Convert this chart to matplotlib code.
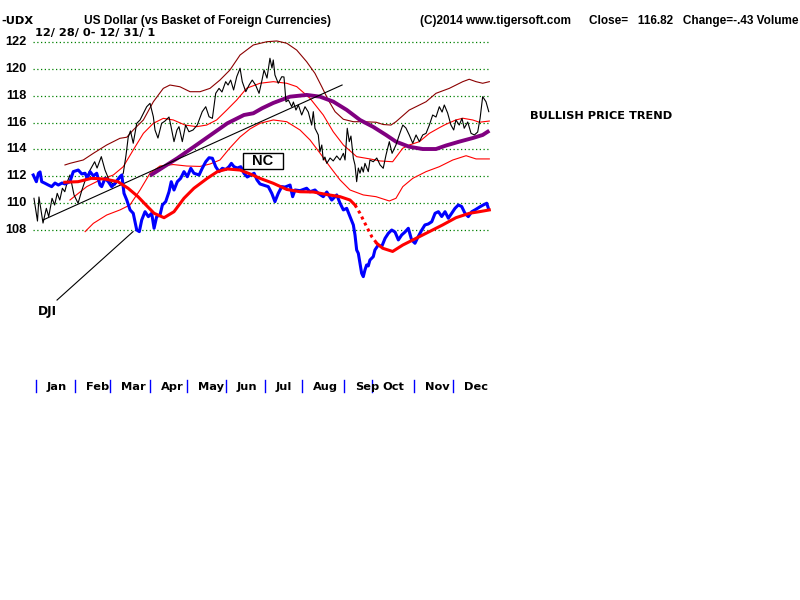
import matplotlib
matplotlib.use("Agg")
import matplotlib.pyplot as plt
import matplotlib.transforms as mtransforms
from matplotlib.patches import Rectangle

# ---------------- data (x = trading-day index of 2001, y = chart price scale) -------------
udx_days = [-1.1, 0.8, 1.6, 3.8, 5.6, 6.9, 8.7, 10.1, 11.5, 12.9, 14.3, 15.6, 17.0, 18.4, 20.6, 22.8,
            24.9, 27.1, 29.3, 31.8, 33.1, 35.4, 37.4, 40.0, 42.8, 45.5, 47.3, 48.8, 50.0, 51.2, 52.7,
            54.6, 56.4, 58.2, 60.0, 61.8, 63.6, 64.5, 66.1, 68.1, 69.9, 72.1, 73.2, 74.8, 76.4, 77.5,
            79.3, 81.1, 82.9, 85.1, 87.4, 90.1, 92.0, 93.8, 95.6, 97.4, 99.2, 100.8, 102.8, 104.1,
            105.5, 107.1, 108.8, 110.6, 111.8, 113.7, 115.5, 117.2, 119.0, 120.9, 122.5, 123.6, 125.2,
            126.8, 127.9, 128.6, 129.5, 131.3, 133.2, 134.4, 135.5, 136.8, 138.6, 139.5, 140.9, 142.2,
            144.0, 145.8, 147.6, 149.4, 150.3, 151.2, 153.0, 153.9, 154.9, 155.7, 156.6, 157.6, 159.4,
            161.1, 163.0, 164.8, 166.6, 167.5, 168.7, 169.8, 170.7, 172.0, 172.9, 173.8, 174.7, 175.6,
            176.5, 177.4, 178.3, 180.1, 181.0, 182.8, 184.7, 186.5, 188.2, 189.7, 191.5, 193.0, 195.1,
            196.9, 198.8, 200.5, 202.3, 204.2, 206.0, 207.8, 209.6, 211.4, 213.2, 215.0, 216.8, 218.6,
            220.1, 221.3, 223.1, 224.9, 226.4, 227.6, 229.4, 230.9, 232.1, 234.0, 235.8, 237.6, 239.4,
            240.7, 242.1, 243.9, 245.4]
udx_close = [110.35, 108.65, 110.45, 108.50, 109.60, 108.98, 110.35, 109.85, 110.72, 110.22, 111.10,
             110.84, 111.59, 112.09, 110.60, 109.98, 110.97, 111.87, 112.46, 113.08, 112.61, 113.46,
             112.46, 111.59, 111.34, 111.87, 112.22, 113.58, 114.93, 115.38, 114.46, 115.95, 116.20,
             116.70, 117.19, 117.44, 116.44, 115.45, 114.85, 115.95, 116.12, 116.42, 115.70, 114.58,
             115.45, 115.70, 114.58, 115.82, 115.32, 115.45, 115.82, 116.82, 117.19, 116.44, 116.32,
             118.19, 118.56, 118.29, 119.06, 118.81, 119.18, 118.44, 119.43, 120.06, 119.06, 118.31,
             118.81, 119.18, 118.81, 118.19, 119.18, 119.93, 119.33, 120.81, 120.08, 120.68, 119.56,
             118.94, 119.43, 119.41, 117.56, 117.69, 117.19, 117.54, 116.94, 117.32, 116.57, 117.19,
             116.79, 115.82, 116.82, 115.58, 115.08, 113.83, 114.33, 113.21, 113.43, 112.96, 113.36,
             113.14, 113.51, 113.21, 113.71, 113.21, 115.58, 114.58, 115.00, 113.34, 112.84, 111.59,
             112.61, 112.22, 112.69, 112.31, 112.96, 112.34, 113.21, 113.08, 113.36, 112.84, 112.59,
             113.58, 114.58, 113.71, 114.33, 115.08, 115.82, 115.60, 115.08, 114.46, 115.08, 114.58,
             115.08, 115.20, 115.82, 116.57, 116.42, 117.19, 116.79, 117.32, 116.72, 115.82, 115.45,
             116.20, 115.82, 116.32, 115.58, 116.05, 115.20, 115.08, 115.30, 116.32, 117.94, 117.56,
             116.82]

outer_days = [15.7, 18.4, 25.6, 31.1, 38.3, 45.5, 49.2, 52.7, 58.2, 63.6, 69.0, 72.6, 78.0, 83.5,
              88.9, 94.3, 99.7, 105.1, 110.6, 117.8, 125.0, 130.5, 135.9, 141.3, 146.7, 151.2, 154.9,
              158.4, 162.1, 166.6, 172.0, 177.4, 184.3, 188.2, 192.4, 195.1, 202.3, 211.4, 216.8,
              224.0, 231.3, 234.8, 238.5, 242.1, 245.7]
outer_upper = [112.84, 112.96, 113.21, 113.71, 114.33, 114.83, 114.91, 115.45, 116.20, 117.56,
               118.56, 118.81, 118.68, 118.31, 118.31, 118.56, 119.18, 119.93, 121.05, 121.80,
               122.04, 122.10, 121.93, 121.42, 120.55, 119.68, 118.68, 117.69, 116.82, 116.25,
               116.07, 116.07, 116.03, 115.86, 115.82, 116.07, 116.94, 117.56, 118.19, 118.56,
               119.06, 119.24, 119.06, 118.94, 119.06]

upper_days = [18.4, 27.5, 34.7, 41.9, 47.3, 52.7, 58.2, 63.6, 69.0, 74.4, 80.8, 87.1, 92.5, 97.9,
              103.4, 108.8, 114.2, 121.4, 128.6, 135.9, 141.3, 148.5, 155.7, 161.1, 166.6, 173.8,
              181.0, 186.4, 193.3, 198.8, 202.3, 207.8, 213.2, 218.6, 222.2, 227.6, 231.3, 236.7,
              240.3, 245.7]
upper_band = [110.22, 111.22, 111.72, 112.09, 112.71, 113.96, 115.20, 115.95, 116.32, 116.20,
              115.82, 115.70, 115.82, 116.20, 116.94, 117.69, 118.57, 118.94, 119.06, 118.94,
              118.69, 117.82, 116.57, 115.32, 114.33, 113.46, 113.29, 113.14, 113.08, 114.09,
              114.33, 114.58, 115.20, 115.62, 115.88, 116.20, 116.33, 116.20, 116.03, 116.12]

lower_days = [26.6, 31.1, 38.3, 45.5, 50.9, 56.4, 61.8, 67.2, 74.4, 81.7, 88.9, 94.3, 99.7, 105.1,
              110.6, 116.0, 121.4, 128.6, 135.9, 143.1, 148.5, 154.0, 159.3, 164.8, 170.2, 177.4,
              184.3, 191.5, 195.1, 198.8, 204.2, 211.4, 218.6, 225.9, 233.1, 238.5, 245.7]
lower_band = [107.86, 108.48, 109.10, 109.48, 109.85, 110.97, 112.22, 112.76, 112.87, 112.76,
              112.73, 112.91, 113.21, 114.11, 114.93, 115.53, 115.95, 116.20, 116.07, 115.45,
              114.71, 113.71, 112.71, 111.72, 110.97, 110.60, 110.47, 110.15, 110.35, 111.22,
              111.84, 112.34, 112.71, 113.21, 113.53, 113.29, 113.29]

ma50_days = [61.8, 69.4, 76.6, 85.6, 94.7, 103.7, 112.7, 117.8, 122.5, 128.6, 137.7, 146.7, 153.9,
             161.1, 168.4, 175.6, 182.8, 189.7, 195.1, 202.3, 209.6, 216.8, 222.2, 229.4, 236.7,
             242.1, 245.7]
ma50 = [112.04, 112.71, 113.34, 114.20, 115.08, 115.95, 116.57, 116.70, 117.07, 117.47, 117.94,
        118.07, 117.94, 117.57, 116.95, 116.20, 115.68, 115.08, 114.58, 114.20, 114.03, 114.03,
        114.29, 114.58, 114.85, 115.08, 115.40]

dji_days = [-1.5, 0.2, 1.3, 2.2, 3.1, 4.9, 6.7, 8.5, 10.3, 12.1, 14.1, 15.7, 18.4, 20.2, 22.9, 24.8,
            26.6, 27.8, 29.3, 31.1, 32.9, 34.7, 35.6, 37.4, 39.2, 41.0, 42.8, 45.5, 46.5, 47.7, 49.2,
            51.0, 52.7, 54.6, 56.0, 57.3, 59.1, 60.9, 62.7, 64.0, 65.4, 67.2, 68.5, 70.3, 72.1, 73.3,
            74.8, 76.6, 78.4, 80.2, 82.0, 83.9, 85.6, 88.4, 90.1, 92.0, 93.8, 95.6, 97.4, 99.2, 101.0,
            102.8, 104.6, 105.9, 107.3, 109.1, 111.0, 112.7, 114.5, 116.4, 118.2, 119.8, 121.4, 123.2,
            125.9, 127.8, 129.5, 131.3, 133.2, 135.0, 137.7, 139.1, 140.4, 143.1, 146.7, 148.5, 151.2,
            153.0, 155.7, 157.6, 160.3, 163.0, 164.8, 166.6, 168.4, 170.2, 172.0, 172.9, 173.8, 174.7,
            175.6, 176.5, 177.4, 178.3, 179.2, 180.1, 181.0, 182.8, 183.7, 185.5, 187.4, 189.2, 191.0,
            192.8, 194.6, 196.4, 198.2, 200.0, 201.8, 203.6, 205.4, 207.2, 209.1, 210.8, 212.6, 214.5,
            216.3, 218.1, 219.9, 221.7, 223.5, 225.3, 227.1, 228.9, 230.7, 232.5, 234.3, 236.2, 237.9,
            240.7, 242.4, 244.3, 245.2]
dji_scaled = [112.09, 111.59, 112.22, 112.32, 111.59, 111.47, 111.34, 111.22, 111.49, 111.34, 111.49,
              111.42, 111.59, 112.34, 112.46, 112.17, 112.22, 111.84, 112.34, 112.02, 112.22, 111.34,
              111.22, 111.84, 111.59, 111.22, 111.47, 111.96, 112.09, 110.72, 110.22, 109.48, 109.23,
              107.98, 107.86, 108.73, 109.35, 108.98, 109.23, 108.11, 108.98, 109.10, 109.85, 110.10,
              110.84, 111.59, 110.97, 111.59, 111.84, 112.34, 111.96, 112.59, 112.22, 112.09, 112.59,
              113.08, 113.38, 113.34, 112.71, 112.34, 112.59, 112.50, 112.71, 112.96, 112.71, 112.61,
              112.71, 112.22, 111.94, 112.09, 112.22, 111.72, 111.42, 111.34, 111.22, 110.72, 110.10,
              110.72, 111.22, 111.19, 111.34, 110.47, 110.97, 110.92, 111.10, 110.84, 110.97, 110.72,
              110.47, 110.82, 110.22, 110.60, 109.98, 109.48, 109.60, 108.98, 108.36, 107.61, 106.49,
              106.24, 105.50, 104.75, 104.50, 105.00, 105.37, 105.30, 105.74, 105.99, 106.49, 106.86,
              106.75, 107.36, 107.74, 107.98, 107.83, 107.24, 107.61, 107.83, 108.11, 107.24, 106.99,
              107.50, 107.98, 108.36, 108.43, 108.60, 109.23, 109.35, 108.99, 109.35, 108.86, 109.23,
              109.60, 109.85, 109.74, 109.23, 108.98, 109.35, 109.48, 109.72, 109.85, 109.98, 109.60]

dji_ma_days = [15.6, 22.8, 30.0, 37.2, 44.4, 49.9, 55.3, 59.6, 64.0, 69.4, 74.8, 80.2, 85.6, 92.8,
               98.3, 103.7, 110.6, 116.0, 121.4, 128.6, 135.9, 143.1, 150.3, 157.6, 164.8, 170.2,
               172.9, 175.6, 179.2, 182.1, 184.7, 187.9, 193.3, 198.8, 206.0, 213.2, 220.4, 227.6,
               234.9, 240.3, 245.7]
dji_ma = [111.55, 111.59, 111.84, 111.79, 111.59, 111.10, 110.47, 109.85, 109.23, 108.90, 109.35,
          110.35, 111.10, 111.84, 112.34, 112.54, 112.46, 112.17, 111.84, 111.47, 111.01, 110.84,
          110.82, 110.63, 110.47, 110.22, 109.85, 109.23, 108.23, 107.46, 106.99, 106.62, 106.38,
          106.86, 107.36, 107.86, 108.36, 108.90, 109.23, 109.35, 109.48]
dji_ma_dotted_from = 172.9
dji_ma_dotted_to = 184.7

trend_days = [3.8, 165.9]
trend_vals = [108.73, 118.81]
pointer_days = [11.4, 52.6]
pointer_vals = [102.75, 107.86]

price_levels = [108, 110, 112, 114, 116, 118, 120, 122]
month_names = ["Jan", "Feb", "Mar", "Apr", "May", "Jun", "Jul", "Aug", "Sep", "Oct", "Nov", "Dec"]
month_start_day = [0, 21, 40, 62, 82, 103, 124, 144, 167, 182, 205, 226]

# ---------------- figure -------------
W, H = 800, 600
fig = plt.figure(figsize=(8, 6), dpi=100, facecolor="white")
ax = fig.add_axes([0, 0, 1, 1])
ax.set_axis_off()
px_per_day = 1.845
x0_px = 36.0
ax.set_xlim(-x0_px / px_per_day, (W - x0_px) / px_per_day)
ax.set_ylim(122 - (H - 42.3) / 13.39, 122 + 42.3 / 13.39)

FONT = "DejaVu Sans"
NARROW = "Liberation Sans"
fs = 8.2

# grid
ax.hlines(price_levels, -1.6, 246.0, colors="#008000", linestyles=(0, (1, 2)), lw=0.9, zorder=1)

trans_ylab = mtransforms.blended_transform_factory(fig.transFigure, ax.transData)
for p in price_levels:
    ax.text(27 / W, p, str(p), transform=trans_ylab, ha="right", va="center",
            fontsize=9.2, fontweight="bold", family=NARROW)

# bands and averages
ax.plot(outer_days, outer_upper, color="#8B0000", lw=0.8, zorder=2)
ax.plot(upper_days, upper_band, color="#FF0000", lw=0.8, zorder=2)
ax.plot(lower_days, lower_band, color="#FF0000", lw=0.8, zorder=2)
ax.plot(ma50_days, ma50, color="#800080", lw=2.8, zorder=3, solid_capstyle="butt")
ax.plot(trend_days, trend_vals, color="black", lw=0.8, zorder=3)
ax.plot(udx_days, udx_close, color="black", lw=0.8, zorder=4)

# DJI and its moving average
ax.plot(dji_days, dji_scaled, color="#0000FF", lw=2.2, zorder=5)
seg1 = [i for i, d in enumerate(dji_ma_days) if d <= dji_ma_dotted_from]
seg2 = [i for i, d in enumerate(dji_ma_days) if dji_ma_dotted_from <= d <= dji_ma_dotted_to]
seg3 = [i for i, d in enumerate(dji_ma_days) if d >= dji_ma_dotted_to]
for seg in (seg1, seg3):
    ax.plot([dji_ma_days[i] for i in seg], [dji_ma[i] for i in seg], color="#FF0000",
            lw=2.2, zorder=6)
ax.plot([dji_ma_days[i] for i in seg2], [dji_ma[i] for i in seg2], color="#FF0000",
        lw=2.2, ls=(0, (1, 1.2)), zorder=6)

ax.plot(pointer_days, pointer_vals, color="black", lw=0.8, zorder=3)
fig.text(38 / W, 1 - 311 / H, "DJI", ha="left", va="center", fontsize=fs + 0.5,
         fontweight="bold", family=FONT)

# NC box (pixel frame 243..283 x 152.7..169.3 converted to data)
nc_left, nc_right = (243 - x0_px) / px_per_day, (283 - x0_px) / px_per_day
nc_top, nc_bot = 122 - (152.7 - 42.3) / 13.39, 122 - (169.3 - 42.3) / 13.39
ax.add_patch(Rectangle((nc_left, nc_bot), nc_right - nc_left, nc_top - nc_bot,
                       facecolor="white", edgecolor="black", lw=1.0, zorder=7))
ax.text((nc_left + nc_right) / 2, (nc_top + nc_bot) / 2, "NC", ha="center", va="center",
        fontsize=10.5, fontweight="bold", family=NARROW, zorder=8)

# month axis
trans_month = mtransforms.blended_transform_factory(ax.transData, fig.transFigure)
for name, d in zip(month_names, month_start_day):
    ax.plot([d, d], [1 - 380 / H, 1 - 392 / H], transform=trans_month, color="#0000FF", lw=1.0)
    ax.text(d + 11 / px_per_day, 1 - 386.5 / H, name, transform=trans_month, ha="left",
            va="center", fontsize=fs, fontweight="bold", family=FONT)

# header texts
fig.text(1 / W, 1 - 21 / H, "-UDX", ha="left", va="center", fontsize=fs, fontweight="bold", family=FONT)
fig.text(84 / W, 1 - 21 / H, "US Dollar (vs Basket of Foreign Currencies)", ha="left", va="center",
         fontsize=8.55, fontweight="bold", family=NARROW)
fig.text(35 / W, 1 - 33 / H, "12/ 28/ 0- 12/ 31/ 1", ha="left", va="center", fontsize=fs,
         fontweight="bold", family=FONT)
fig.text(420 / W, 1 - 21 / H, "(C)2014 www.tigersoft.com", ha="left", va="center", fontsize=8.5,
         fontweight="bold", family=NARROW)
fig.text(589 / W, 1 - 21 / H, "Close=   116.82   Change=-.43 Volume", ha="left", va="center",
         fontsize=8.5, fontweight="bold", family=NARROW)
fig.text(530 / W, 1 - 116 / H, "BULLISH PRICE TREND", ha="left", va="center", fontsize=fs,
         fontweight="bold", family=FONT)

fig.savefig("out.png", dpi=100, facecolor="white")
